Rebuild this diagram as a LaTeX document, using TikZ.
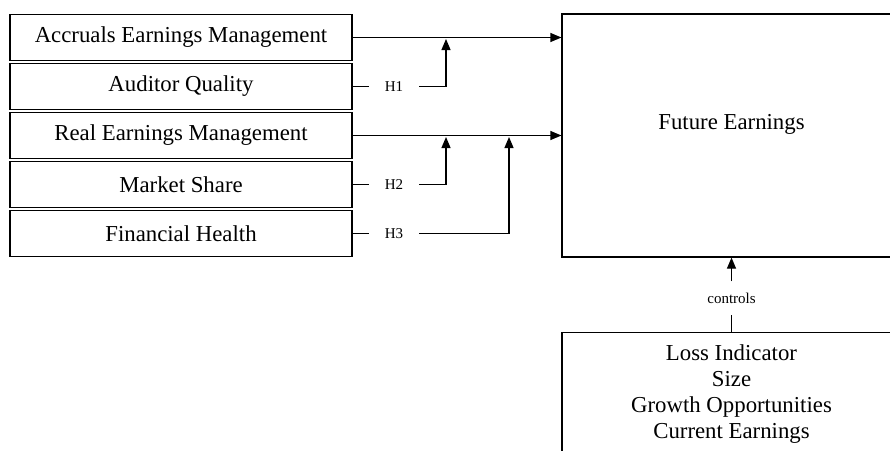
\documentclass[tikz,border=0pt]{standalone}
\usepackage{fontspec}
\setmainfont{Liberation Serif}
\usetikzlibrary{arrows.meta}
\begin{document}
\begin{tikzpicture}[x=1pt,y=-1pt,
  box/.style={draw, line width=1.2pt, minimum width=342pt, minimum height=46pt, inner sep=0pt, font=\fontsize{22.8}{26}\selectfont},
  bigbox/.style={draw, line width=1.2pt, minimum width=339pt, inner sep=0pt},
  bigtext/.style={font=\fontsize{22.8}{26}\selectfont, align=center, inner sep=0pt},
  hlab/.style={inner xsep=16pt, inner ysep=2pt, font=\fontsize{15}{15}\selectfont},
  conn/.style={line width=1.2pt},
  arr/.style={conn, -{Triangle[length=11pt,width=9pt]}}]
\useasboundingbox (0,0) rectangle (890,450);
% left column
\node[box] (aem) at (181,37.5) {Accruals Earnings Management};
\node[box] (aq)  at (181,86.5) {Auditor Quality};
\node[box] (rem) at (181,135.5) {Real Earnings Management};
\node[box] (ms)  at (181,184.5) {Market Share};
\node[box] (fh)  at (181,233.5) {Financial Health};
% right boxes
\node[bigbox, minimum height=243pt] (fe) at (731.5,135.5) {};
\node[bigtext] (fetext) at (731.5,124) {Future Earnings};
\node[bigbox, minimum height=130pt, anchor=north] (cb) at (731.5,332) {};
\node[bigtext] (cbtext) at (731.5,394) {Loss Indicator\\Size\\Growth Opportunities\\Current Earnings};
% main arrows
\draw[arr] (aem.east) -- (aem.east -| fe.west);
\draw[arr] (rem.east) -- (rem.east -| fe.west);
% moderators
\node[hlab] (h1) at (394,86.5) {H1};
\node[hlab] (h2) at (394,184.5) {H2};
\node[hlab] (h3) at (394,233.5) {H3};
\coordinate (j1) at (446,39);
\coordinate (j2) at (446,137);
\coordinate (j3) at (509,137);
\draw[conn] (aq.east) -- (h1.west);
\draw[arr] (h1.east) -| (j1);
\draw[conn] (ms.east) -- (h2.west);
\draw[arr] (h2.east) -| (j2);
\draw[conn] (fh.east) -- (h3.west);
\draw[arr] (h3.east) -| (j3);
% controls
\node[inner sep=0pt, minimum height=33pt, font=\fontsize{15}{15}\selectfont] (ctl) at (731.5,298) {controls};
\draw[conn] (cb.north) -- (ctl.south);
\draw[arr] (ctl.north) -- (fe.south);
\end{tikzpicture}
\end{document}
